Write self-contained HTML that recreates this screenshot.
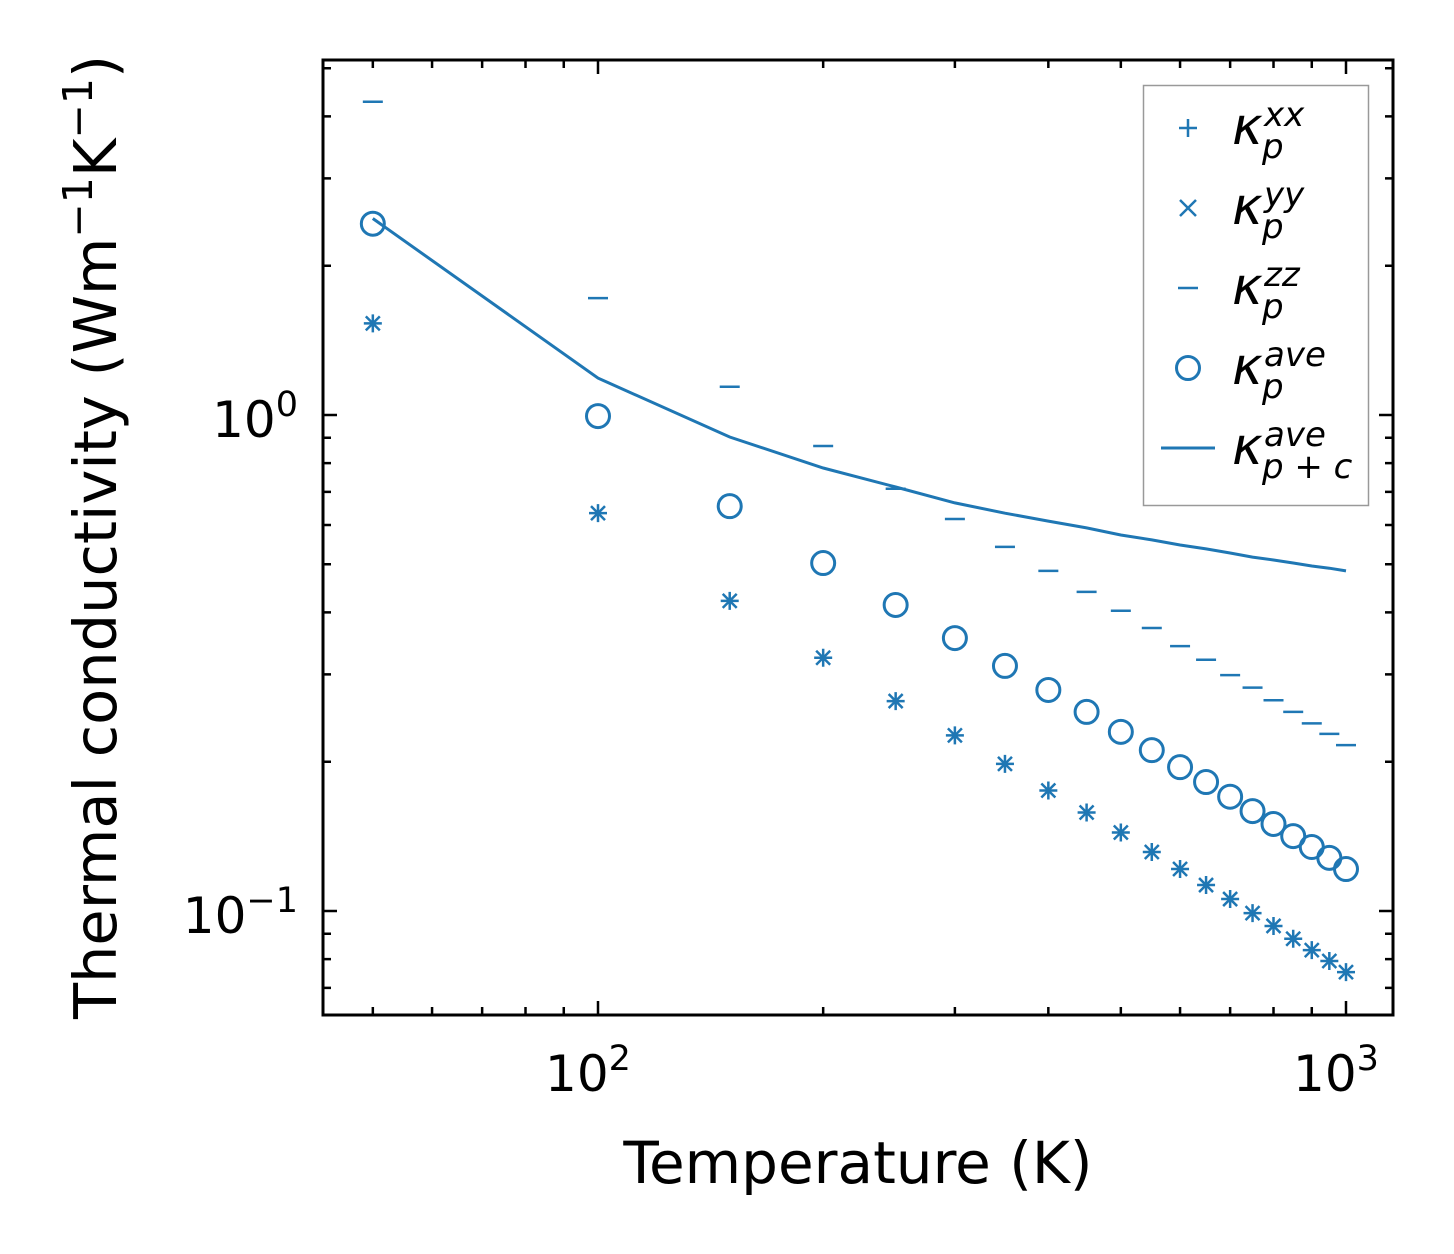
<!DOCTYPE html>
<html><head><meta charset="utf-8"><style>
html,body{margin:0;padding:0;background:#fff}
svg{display:block;font-family:"DejaVu Sans","Liberation Sans",sans-serif}
</style></head><body>
<svg id="chart" width="1454" height="1254" viewBox="0 0 1454 1254" xmlns="http://www.w3.org/2000/svg">
<rect x="0" y="0" width="1454" height="1254" fill="#fff"/>
<g id="plot"></g>
</svg>
<script>
const temps=[50,100,150,200,250,300,350,400,450,500,550,600,650,700,750,800,850,900,950,1000];
const kxx=[1.53,0.634,0.422,0.324,0.265,0.226,0.198,0.175,0.158,0.144,0.1315,0.1215,0.1128,0.1057,0.099,0.0933,0.0879,0.0834,0.0793,0.0753];
const kyy=[1.53,0.634,0.422,0.324,0.265,0.226,0.198,0.175,0.158,0.144,0.1315,0.1215,0.1128,0.1057,0.099,0.0933,0.0879,0.0834,0.0793,0.0753];
const kzz=[4.28,1.72,1.14,0.866,0.71,0.617,0.542,0.485,0.44,0.403,0.372,0.342,0.321,0.299,0.282,0.266,0.252,0.239,0.2275,0.216];
const kave=[2.43,0.995,0.655,0.503,0.414,0.355,0.312,0.279,0.252,0.2297,0.211,0.195,0.182,0.170,0.159,0.1498,0.1416,0.1346,0.128,0.1215];
const kpc=[2.49,1.187,0.903,0.782,0.716,0.665,0.634,0.611,0.592,0.573,0.56,0.547,0.537,0.527,0.517,0.51,0.503,0.496,0.491,0.485];
const xMajor=[100,1000];
const xMinor=[50,60,70,80,90,200,300,400,500,600,700,800,900];
const yMajor=[0.1,1];
const yMinor=[0.07,0.08,0.09,0.2,0.3,0.4,0.5,0.6,0.7,0.8,0.9,2,3,4,5];
const xMajorLabels=["2","3"];
const yMajorLabels=["\u22121","0"];

const L=323,R=1393,T=60,B=1015,C="#1f77b4";
const xs=v=>598+748*(Math.log10(v)-2);
const ys=v=>415-496*Math.log10(v);
const NS="http://www.w3.org/2000/svg";
const g=document.getElementById('plot');
function el(tag,attrs,parent){const e=document.createElementNS(NS,tag);for(const k in attrs)e.setAttribute(k,attrs[k]);(parent||g).appendChild(e);return e;}

const defs=el('defs',{});const cp=el('clipPath',{id:'clip'},defs);el('rect',{x:L,y:T,width:R-L,height:B-T},cp);
const data=el('g',{'clip-path':'url(#clip)'});



let d='';temps.forEach((t,i)=>{d+=(i?'L':'M')+xs(t).toFixed(1)+','+ys(kpc[i]).toFixed(1);});
const line=el('path',{d:d,fill:'none',stroke:C,'stroke-width':3},data);



function plus(x,y,s,p){return el('path',{d:`M${x-s},${y}H${x+s}M${x},${y-s}V${y+s}`,stroke:C,'stroke-width':2.5,fill:'none'},p);}
function cross(x,y,s,p){return el('path',{d:`M${x-s},${y-s}L${x+s},${y+s}M${x-s},${y+s}L${x+s},${y-s}`,stroke:C,'stroke-width':2.5,fill:'none'},p);}
function dash(x,y,s,p){return el('path',{d:`M${x-s},${y}H${x+s}`,stroke:C,'stroke-width':2.5},p);}
function circ(x,y,r,p){return el('circle',{cx:x,cy:y,r:r,fill:'none',stroke:C,'stroke-width':3},p);}

temps.forEach((t,i)=>{
  const a=plus(xs(t),ys(kxx[i]),9,data);
  
  
  const b=cross(xs(t),ys(kyy[i]),7,data);
  
  
  const c=dash(xs(t),ys(kzz[i]),10,data);
  
  
  const e=circ(xs(t),ys(kave[i]),11.5,data);
  
  
});

const tk=el('g',{stroke:'#000','stroke-width':2.5});


xMajor.forEach(v=>{const x=xs(v);el('path',{d:`M${x},${B}v-14M${x},${T}v14`},tk);});
xMinor.forEach(v=>{const x=xs(v);el('path',{d:`M${x},${B}v-8M${x},${T}v8`},tk);});
yMajor.forEach(v=>{const y=ys(v);el('path',{d:`M${L},${y}h14M${R},${y}h-14`},tk);});
yMinor.forEach(v=>{const y=ys(v);el('path',{d:`M${L},${y}h8M${R},${y}h-8`},tk);});
const frame=el('rect',{x:L,y:T,width:R-L,height:B-T,fill:'none',stroke:'#000','stroke-width':3});



xMajor.forEach((v,i)=>{
  const t=el('text',{x:xs(v)-10,y:1091,'font-size':50,'text-anchor':'middle'});
  
  
  t.innerHTML='10<tspan dy="-21" font-size="35">'+xMajorLabels[i]+'</tspan>';
});
yMajor.forEach((v,i)=>{
  const t=el('text',{x:298,y:ys(v)+22,'font-size':50,'text-anchor':'end'});
  
  
  t.innerHTML='10<tspan dy="-21" font-size="35">'+yMajorLabels[i]+'</tspan>';
});

const xt=el('text',{x:858,y:1183,'font-size':58,'text-anchor':'middle'});


xt.textContent='Temperature (K)';
const yt=el('text',{transform:'translate(116,537) rotate(-90)','font-size':59,'text-anchor':'middle'});


yt.innerHTML='Thermal conductivity (Wm<tspan dy="-24" font-size="41">\u22121</tspan><tspan dy="24">K</tspan><tspan dy="-24" font-size="41">\u22121</tspan><tspan dy="24">)</tspan>';

const lg=el('g',{});


el('rect',{x:1143.5,y:85.5,width:225,height:420,fill:'#fff',stroke:'#999','stroke-width':1.5},lg);
const sups=['xx','yy','zz','ave','ave'];
const subs=['p','p','p','p','p + c'];
for(let i=0;i<5;i++){
  const cy=128+80*i;
  let m;
  if(i==0)m=plus(1188,cy,9,lg);else if(i==1)m=cross(1188,cy,8,lg);else if(i==2)m=dash(1188,cy,10,lg);else if(i==3)m=circ(1188,cy,11.5,lg);else m=el('path',{d:`M1161,${cy}H1215`,stroke:C,'stroke-width':3},lg);
  
  
  const t=el('text',{x:1232,y:cy+16,'font-size':52,'font-style':'italic','font-family':'"DejaVu Sans",sans-serif'},lg);
  
  
  t.innerHTML='\u03ba<tspan x="1264" dy="-18" font-size="34">'+sups[i]+'</tspan><tspan x="1262" dy="32" font-size="34">'+subs[i]+'</tspan>';
}
</script>
</body></html>
